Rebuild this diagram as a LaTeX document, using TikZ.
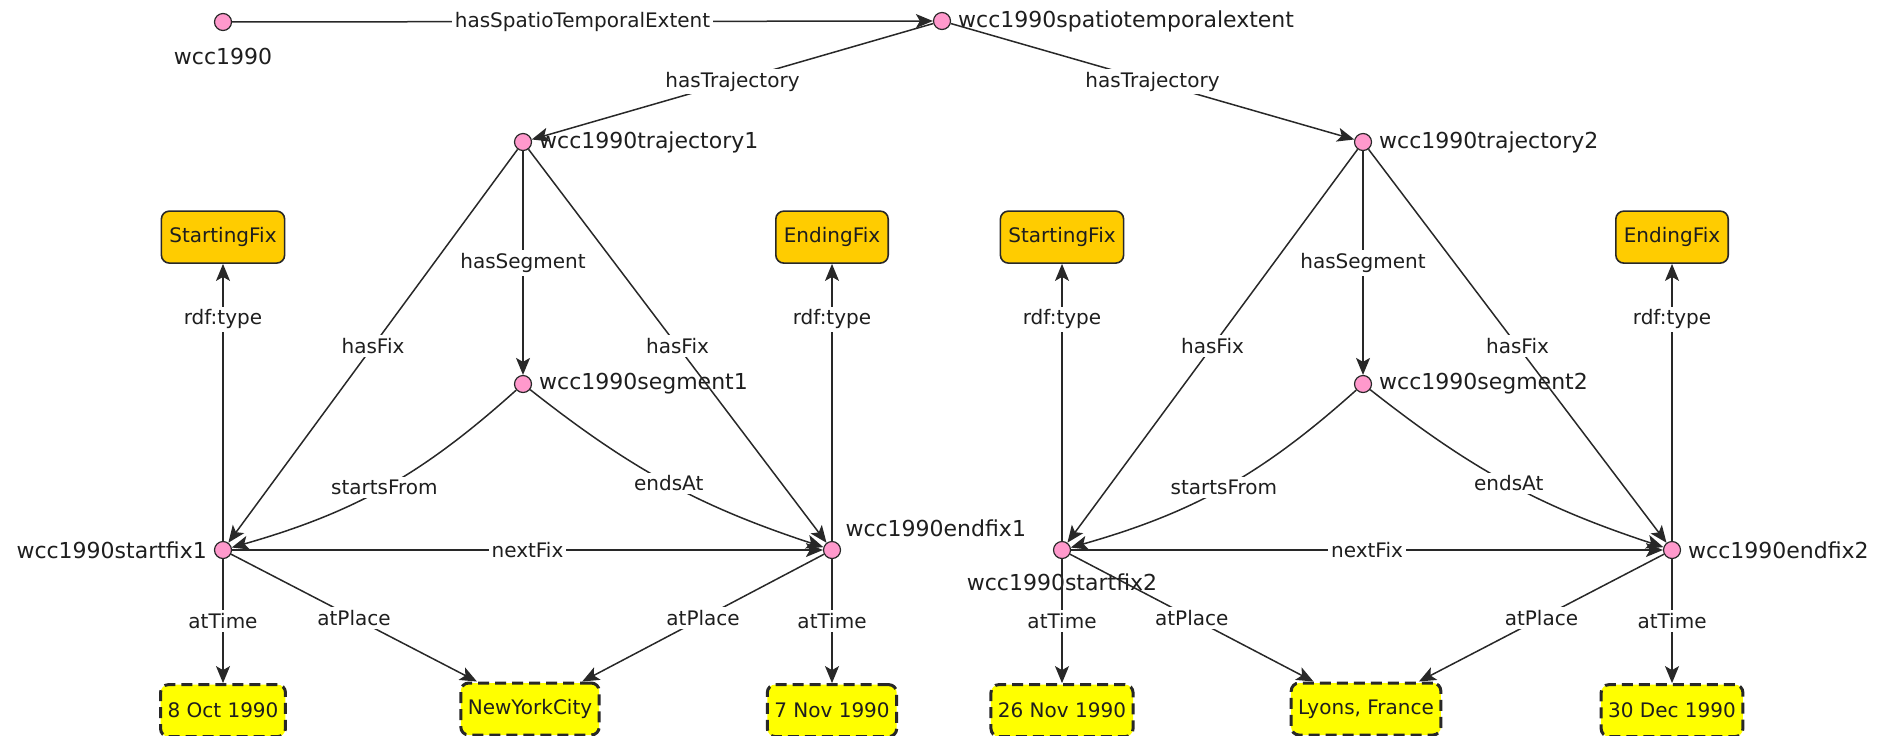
\documentclass[tikz,border=0pt]{standalone}
\usepackage{fontspec}
\setmainfont{DejaVu Sans}
\usepackage{tikz}
\usetikzlibrary{arrows.meta, positioning}
\definecolor{respink}{RGB}{255,153,204}
\definecolor{classbg}{RGB}{255,204,0}
\definecolor{litbg}{RGB}{255,255,0}
\definecolor{edgeline}{RGB}{40,40,40}
\definecolor{labeltext}{RGB}{30,30,30}
\tikzset{
  resnode/.style={circle, draw=edgeline, fill=respink, minimum size=8.5pt,
                  inner sep=0pt, line width=0.6pt},
  classbox/.style={rectangle, rounded corners=4pt, draw=edgeline, fill=classbg,
                   minimum height=26pt, inner xsep=4pt, line width=0.8pt,
                   text=labeltext},
  litbox/.style={rectangle, rounded corners=4pt, draw=edgeline, fill=litbg,
                 dash pattern=on 5.5pt off 3pt, line width=1.5pt,
                 minimum height=26pt, inner xsep=3.5pt, text=labeltext},
  edgelabel/.style={fill=white, inner sep=1.5pt, text=labeltext},
  arrowstyle/.style={-{Stealth[length=8.5pt,width=7pt,inset=2pt]}, line width=0.75pt,
                     color=edgeline},
  every label/.style={text=labeltext, font=\fontsize{11}{13}\selectfont},
}

\begin{document}
\begin{tikzpicture}[x=0.5pt, y=-0.5pt]
  \useasboundingbox (0,0) rectangle (1882,735);

  \node[resnode, label={[label distance=5pt]below:wcc1990}] (wcc) at (223,22) {};
  \node[resnode, label=right:wcc1990spatiotemporalextent] (extent) at (942,21) {};
  \node[resnode, label=right:wcc1990trajectory1] (traj1) at (523,142) {};
  \node[resnode, label=right:wcc1990trajectory2] (traj2) at (1363,142) {};
  \node[resnode, label=right:wcc1990segment1] (seg1) at (523,384) {};
  \node[resnode, label=right:wcc1990segment2] (seg2) at (1363,384) {};
  \node[resnode, label=left:wcc1990startfix1] (start1) at (223,550) {};
  \node[resnode, label={[label distance=0pt]above right:wcc1990endfix1}] (end1) at (832,550) {};
  \node[resnode, label={[label distance=4pt]below:wcc1990startfix2}] (start2) at (1062,550) {};
  \node[resnode, label=right:wcc1990endfix2] (end2) at (1672,550) {};

  \node[classbox, above=138.5pt of start1] (sfix1) {StartingFix};
  \node[classbox, above=138.5pt of end1] (efix1) {EndingFix};
  \node[classbox, above=138.5pt of start2] (sfix2) {StartingFix};
  \node[classbox, above=138.5pt of end2] (efix2) {EndingFix};

  \node[litbox, below=62pt of start1] (time1) {8 Oct 1990};
  \node[litbox, below=62pt of end1] (time2) {7 Nov 1990};
  \node[litbox, below=62pt of start2] (time3) {26 Nov 1990};
  \node[litbox, below=62pt of end2] (time4) {30 Dec 1990};
  \node[litbox] (place1) at (530,709) {NewYorkCity};
  \node[litbox] (place2) at (1366,709) {Lyons, France};

  \draw[arrowstyle] (wcc) -- node[edgelabel] {hasSpatioTemporalExtent} (extent);
  \draw[arrowstyle] (extent) -- node[edgelabel] {hasTrajectory} (traj1);
  \draw[arrowstyle] (extent) -- node[edgelabel] {hasTrajectory} (traj2);

  \draw[arrowstyle] (traj1) -- node[edgelabel] {hasFix} (start1);
  \draw[arrowstyle] (traj1) -- node[edgelabel] {hasSegment} (seg1);
  \draw[arrowstyle] (traj1) -- node[edgelabel] {hasFix} (end1);
  \draw[arrowstyle] (seg1) to[bend left=13] node[edgelabel] {startsFrom} (start1);
  \draw[arrowstyle] (seg1) to[bend right=10] node[edgelabel] {endsAt} (end1);
  \draw[arrowstyle] (start1) -- node[edgelabel] {nextFix} (end1);
  \draw[arrowstyle] (start1) -- node[edgelabel, pos=0.8] {rdf:type} (sfix1);
  \draw[arrowstyle] (end1) -- node[edgelabel, pos=0.8] {rdf:type} (efix1);
  \draw[arrowstyle] (start1) -- node[edgelabel] {atTime} (time1);
  \draw[arrowstyle] (start1) -- node[edgelabel] {atPlace} (place1);
  \draw[arrowstyle] (end1) -- node[edgelabel] {atPlace} (place1);
  \draw[arrowstyle] (end1) -- node[edgelabel] {atTime} (time2);

  \draw[arrowstyle] (traj2) -- node[edgelabel] {hasFix} (start2);
  \draw[arrowstyle] (traj2) -- node[edgelabel] {hasSegment} (seg2);
  \draw[arrowstyle] (traj2) -- node[edgelabel] {hasFix} (end2);
  \draw[arrowstyle] (seg2) to[bend left=13] node[edgelabel] {startsFrom} (start2);
  \draw[arrowstyle] (seg2) to[bend right=10] node[edgelabel] {endsAt} (end2);
  \draw[arrowstyle] (start2) -- node[edgelabel] {nextFix} (end2);
  \draw[arrowstyle] (start2) -- node[edgelabel, pos=0.8] {rdf:type} (sfix2);
  \draw[arrowstyle] (end2) -- node[edgelabel, pos=0.8] {rdf:type} (efix2);
  \draw[arrowstyle] (start2) -- node[edgelabel] {atTime} (time3);
  \draw[arrowstyle] (start2) -- node[edgelabel] {atPlace} (place2);
  \draw[arrowstyle] (end2) -- node[edgelabel] {atPlace} (place2);
  \draw[arrowstyle] (end2) -- node[edgelabel] {atTime} (time4);
\end{tikzpicture}
\end{document}
